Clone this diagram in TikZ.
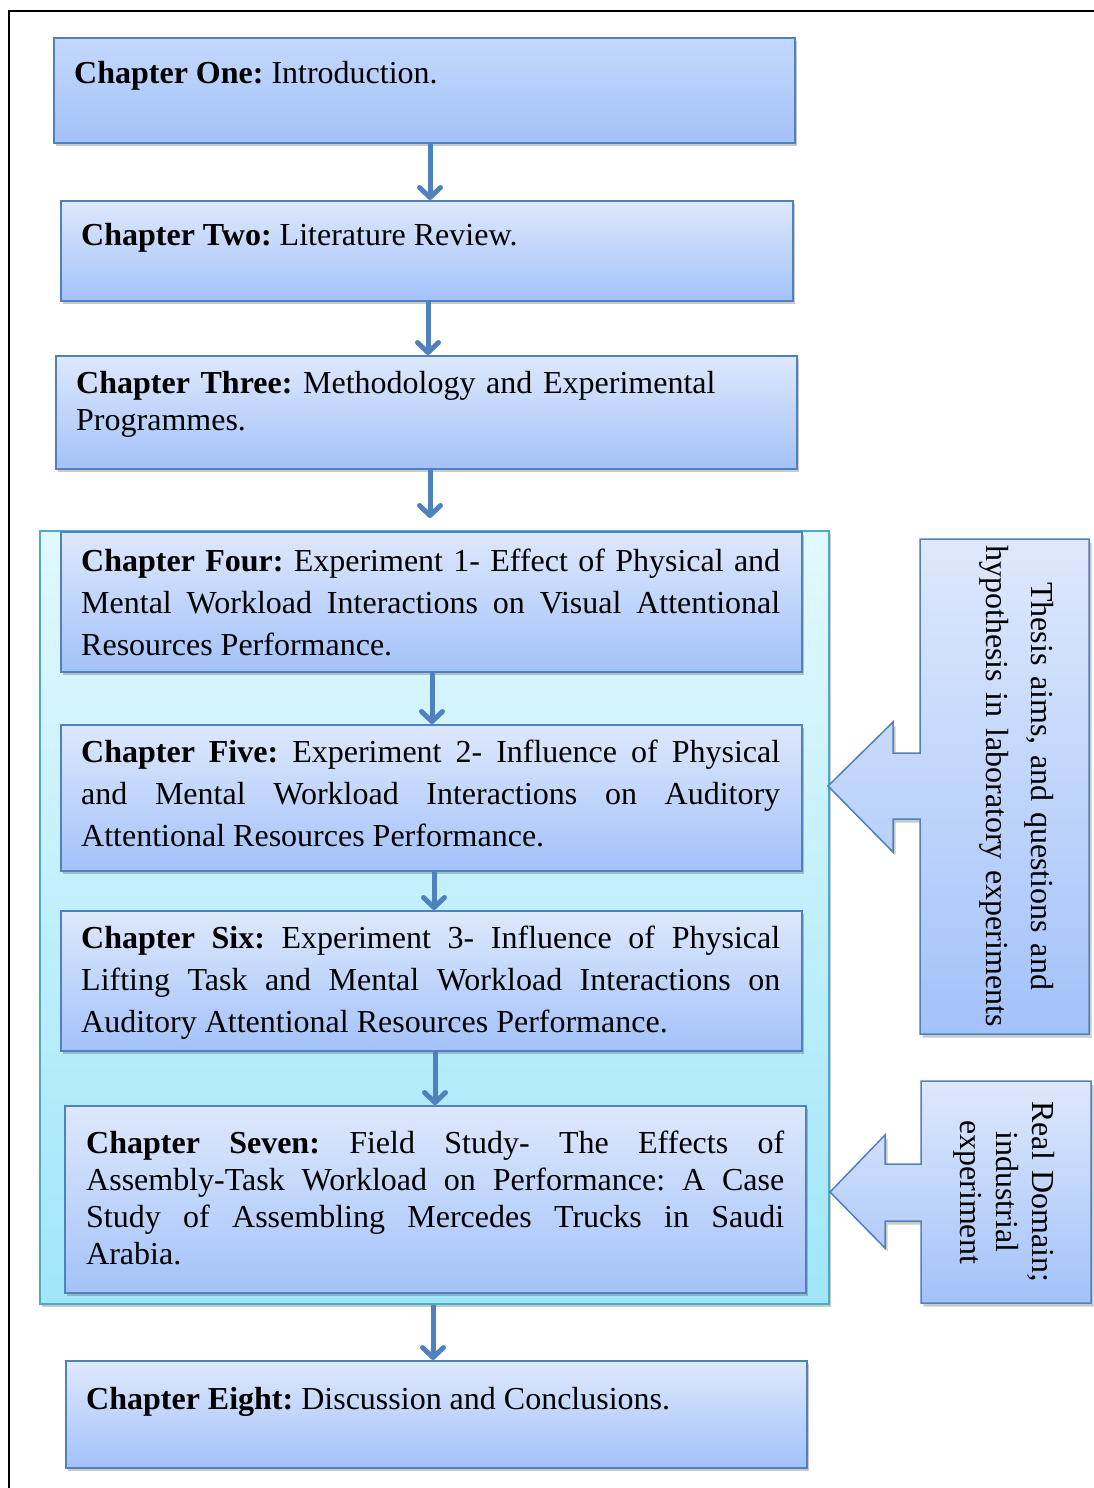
\documentclass[tikz,border=0pt]{standalone}
\usepackage{fontspec}
\setmainfont{Liberation Serif}
\usetikzlibrary{arrows.meta,shadows}
\frenchspacing

\definecolor{boxline}{HTML}{4F81BD}
\definecolor{chaptop}{HTML}{DEE8FC}
\definecolor{chapbot}{HTML}{A3C2FA}
\definecolor{firsttop}{HTML}{C4D8FC}
\definecolor{aqualine}{HTML}{4BACC6}
\definecolor{aquatop}{HTML}{E2F8FE}
\definecolor{aquabot}{HTML}{A0E6F9}
\definecolor{flowblue}{HTML}{4F81BD}

% paragraph settings for the forced, justified lines
\newcommand{\parsetup}{\tolerance=10000 \hyphenpenalty=10000 \exhyphenpenalty=10000 }

\begin{document}
\begin{tikzpicture}[x=1pt, y=-1pt,
  softshadow/.style={drop shadow={shadow xshift=2.5pt, shadow yshift=-3.5pt, opacity=0.3, fill=black!70}},
  chapbox/.style={draw=boxline, line width=1.8pt, top color=chaptop, bottom color=chapbot,
    softshadow, anchor=north west, inner sep=0pt},
  groupbox/.style={draw=aqualine, line width=1.5pt, top color=aquatop, bottom color=aquabot,
    softshadow, anchor=north west, inner sep=0pt},
  chaptext/.style={anchor=base west, inner sep=0pt, text width=699pt, align=justify,
    font=\fontsize{32}{42}\selectfont},
  flow/.style={draw=flowblue, line width=5pt,
    -{Straight Barb[length=10pt, width=21pt, round]}},
  callout/.style={draw=boxline, line width=1.5pt, line join=miter, top color=chaptop,
    bottom color=chapbot, softshadow},
  sidetext/.style={rotate=-90, anchor=base, align=center, inner sep=0pt}]

\useasboundingbox (0,0) rectangle (1094,1488);

% outer frame
\draw[line width=1.5pt] (9,1488) -- (9,11) -- (1094,11);

% chapter boxes
\node[chapbox, top color=firsttop, minimum width=741pt, minimum height=105pt] (b1) at (53,37) {};
\node[chapbox, minimum width=732pt, minimum height=100pt] (b2) at (60,200) {};
\node[chapbox, minimum width=741pt, minimum height=113pt] (b3) at (55,355) {};
\node[groupbox, minimum width=789pt, minimum height=773pt] (grp) at (39,530) {};
\node[chapbox, minimum width=741pt, minimum height=140pt] (b4) at (60,531) {};
\node[chapbox, minimum width=741pt, minimum height=146pt] (b5) at (60,724) {};
\node[chapbox, minimum width=741pt, minimum height=140pt] (b6) at (60,910) {};
\node[chapbox, minimum width=741pt, minimum height=187pt] (b7) at (64,1105) {};
\node[chapbox, minimum width=741pt, minimum height=107pt] (b8) at (65,1360) {};

% chapter texts
\node[chaptext] (t1) at (74,84) {\textbf{Chapter One:} Introduction.};
\node[chaptext] (t2) at (81,245) {\textbf{Chapter Two:} Literature Review.};
\node[chaptext, align=left, font=\fontsize{32}{37}\selectfont] (t3) at (76,393)
  {\textbf{Chapter Three:} Methodology and Experimental\\Programmes.};
\node[chaptext] (t4) at (81,571) {\parsetup\textbf{Chapter Four:} Experiment 1- Effect of Physical and\linebreak
  Mental Workload Interactions on Visual Attentional\linebreak Resources Performance.};
\node[chaptext] (t5) at (81,762) {\parsetup\textbf{Chapter Five:} Experiment 2- Influence of Physical\linebreak
  and Mental Workload Interactions on Auditory\linebreak Attentional Resources Performance.};
\node[chaptext] (t6) at (81,948) {\parsetup\textbf{Chapter Six:} Experiment 3- Influence of Physical\linebreak
  Lifting Task and Mental Workload Interactions on\linebreak Auditory Attentional Resources Performance.};
\node[chaptext, text width=698pt, font=\fontsize{32}{37}\selectfont] (t7) at (86,1153)
  {\parsetup\textbf{Chapter Seven:} Field Study- The Effects of\linebreak
  Assembly-Task Workload on Performance: A Case\linebreak
  Study of Assembling Mercedes Trucks in Saudi\linebreak Arabia.};
\node[chaptext] (t8) at (86,1409) {\textbf{Chapter Eight:} Discussion and Conclusions.};

% arrow columns
\coordinate (c1) at (430,0);
\coordinate (c2) at (428,0);
\coordinate (c3) at (430,0);
\coordinate (c4) at (432,0);
\coordinate (c5) at (434,0);
\coordinate (c6) at (435,0);
\coordinate (c7) at (433,0);

% flow arrows
\draw[flow] (b1.south -| c1) -- (b2.north -| c1);
\draw[flow] (b2.south -| c2) -- (b3.north -| c2);
\draw[flow] (b3.south -| c3) -- ([yshift=12pt]grp.north -| c3);
\draw[flow] (b4.south -| c4) -- (b5.north -| c4);
\draw[flow] (b5.south -| c5) -- (b6.north -| c5);
\draw[flow] (b6.south -| c6) -- (b7.north -| c6);
\draw[flow] (grp.south -| c7) -- (b8.north -| c7);

% left-pointing callouts
\path[callout] (920,539) -- (1089,539) -- (1089,1034) -- (920,1034) -- (920,819)
  -- (893,819) -- (893,852) -- (828,786) -- (893,722) -- (893,753) -- (920,753) -- cycle;
\path[callout] (921,1081) -- (1091,1081) -- (1091,1303) -- (921,1303) -- (921,1221)
  -- (885,1221) -- (885,1248) -- (830,1192) -- (885,1135) -- (885,1164) -- (921,1164) -- cycle;

\node[sidetext, text width=520pt, font=\fontsize{32}{45}\selectfont] (aims) at (1031,786)
  {Thesis aims, and questions and\\hypothesis in laboratory experiments};
\node[sidetext, text width=220pt, font=\fontsize{32}{36}\selectfont] (real) at (1032,1192)
  {Real Domain;\\industrial\\experiment};

\end{tikzpicture}
\end{document}
